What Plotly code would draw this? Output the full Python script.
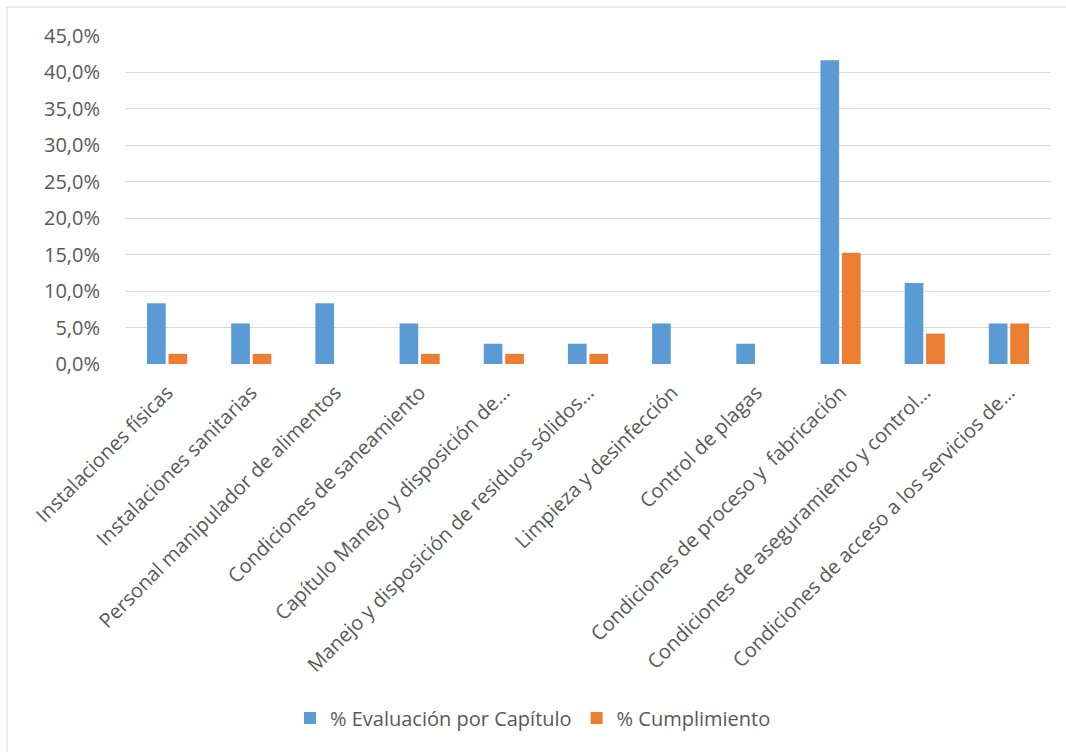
import plotly.graph_objects as go

categories = [
    "Instalaciones físicas",
    "Instalaciones sanitarias",
    "Personal manipulador de alimentos",
    "Condiciones de saneamiento",
    "Capítulo Manejo y disposición de…",
    "Manejo y disposición de residuos sólidos…",
    "Limpieza y desinfección",
    "Control de plagas",
    "Condiciones de proceso y\u00a0 fabricación",
    "Condiciones de aseguramiento y control…",
    "Condiciones de acceso a los servicios de…",
]
evaluacion = [8.33, 5.56, 8.33, 5.56, 2.78, 2.78, 5.56, 2.78, 41.67, 11.11, 5.56]
cumplimiento = [1.39, 1.39, 0.0, 1.39, 1.39, 1.39, 0.0, 0.0, 15.28, 4.17, 5.56]
y_ticks = [0, 5, 10, 15, 20, 25, 30, 35, 40, 45]
y_tick_labels = ["0,0%", "5,0%", "10,0%", "15,0%", "20,0%", "25,0%",
                 "30,0%", "35,0%", "40,0%", "45,0%"]

W, H = 1066, 752
L, R, T, B = 125, 15, 36, 388
pw, ph = W - L - R, H - T - B

fig = go.Figure()
fig.add_trace(go.Bar(x=categories, y=evaluacion, name="% Evaluación por Capítulo",
                     marker=dict(color="#5B9BD5", line=dict(width=0))))
fig.add_trace(go.Bar(x=categories, y=cumplimiento, name="% Cumplimiento",
                     marker=dict(color="#ED7D31", line=dict(width=0))))

def px_x(p):
    return (p - L) / pw

def px_y(p):
    return (H - B - p) / ph

fig.add_shape(type="rect", xref="paper", yref="paper",
              x0=px_x(7), x1=px_x(1080), y0=px_y(766), y1=px_y(7),
              line=dict(color="#d9d9d9", width=1), fillcolor="rgba(0,0,0,0)", layer="below")

fig.update_layout(
    width=W, height=H,
    margin=dict(l=L, r=R, t=T, b=B, autoexpand=False),
    paper_bgcolor="white", plot_bgcolor="white",
    barmode="group", bargap=0.49, bargroupgap=0.13,
    font=dict(family="Open Sans, sans-serif", color="#595959", size=20),
    legend=dict(orientation="h", x=0.5, xanchor="center", xref="container",
                y=1 - 718 / H, yanchor="middle", yref="container",
                font=dict(size=20, color="#595959"), itemwidth=30,
                traceorder="normal"),
    showlegend=True,
)
fig.update_xaxes(tickangle=-45, showgrid=False, showline=False, ticks="",
                 ticklabelstandoff=12,
                 tickfont=dict(size=20, color="#595959"))
fig.update_yaxes(range=[0, 45], tickvals=y_ticks, ticktext=y_tick_labels,
                 showgrid=True, gridcolor="#d9d9d9", gridwidth=1.3,
                 zeroline=False, showline=False, ticks="", ticklabelstandoff=24,
                 tickfont=dict(size=20, color="#595959"))

fig.write_html("out.html")
